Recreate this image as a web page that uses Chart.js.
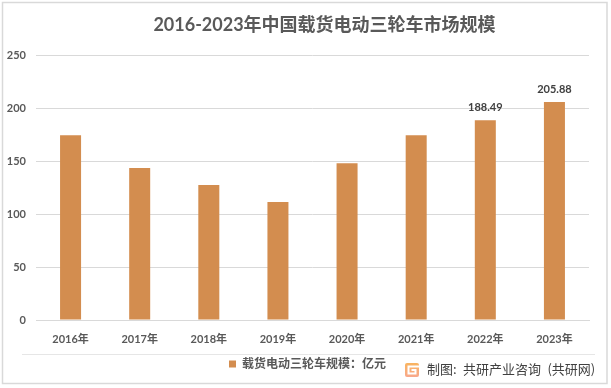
<!DOCTYPE html>
<html><head><meta charset="utf-8">
<style>html,body{margin:0;padding:0;background:#fff}canvas{display:block}</style>
<script src="https://cdn.jsdelivr.net/npm/chart.js@4"></script></head>
<body><div style="width:611px;height:388px;position:relative"><canvas id="c" width="611" height="388"></canvas></div>
<script>
const categories=['2016年','2017年','2018年','2019年','2020年','2021年','2022年','2023年'];
const marketSize=[174.5,143.5,127.5,111.5,148,174.5,188.49,205.88];
const dataLabels=[null,null,null,null,null,null,'188.49','205.88'];
const seriesName='载货电动三轮车规模：亿元';
const titleText='2016-2023年中国载货电动三轮车市场规模';
const sourceText='制图: 共研产业咨询 (共研网)';
const FF='Lato,"Noto Sans CJK SC",sans-serif';
const decor={id:'decor',
 afterLayout(ch){ch.titleBlock.left+=30;ch.titleBlock.right+=30;ch.legend.left+=13;ch.legend.right+=13;ch.legend.top+=1;ch.legend.bottom+=1;},
 beforeDraw(ch){const c=ch.ctx;c.save();c.fillStyle='#fff';c.fillRect(0,0,611,388);
  c.strokeStyle='#D9D9D9';c.lineWidth=1.5;c.strokeRect(2.5,2.5,604.5,381);
  c.lineWidth=1;c.strokeStyle='#E6E6E6';c.beginPath();c.moveTo(22,354.5);c.lineTo(595,354.5);c.stroke();c.restore();},
 afterDatasetsDraw(ch){const c=ch.ctx,m=ch.getDatasetMeta(0);c.save();
  c.font='bold 11px '+FF;c.fillStyle='#404040';c.textAlign='center';c.textBaseline='alphabetic';
  m.data.forEach((b,i)=>{if(dataLabels[i])c.fillText(dataLabels[i],b.x,b.y-9);});
  const g=c.createLinearGradient(0,363,0,377);g.addColorStop(0,'#F9B45F');g.addColorStop(1,'#F8A88C');
  c.fillStyle=g;c.beginPath();c.roundRect(405,363,14,14,2);c.fill();
  c.strokeStyle='#fff';c.lineWidth=2;c.beginPath();c.moveTo(419,366.5);c.lineTo(408.5,366.5);c.lineTo(408.5,373.5);c.lineTo(415.5,373.5);c.lineTo(415.5,370);c.lineTo(411.5,370);c.stroke();
  c.font='13px "Noto Sans CJK SC",sans-serif';c.wordSpacing='3.5px';c.fillStyle='#404040';c.textAlign='left';c.textBaseline='middle';
  c.fillText(sourceText,427,369);c.restore();}};
new Chart(document.getElementById('c'),{type:'bar',
 data:{labels:categories,datasets:[{label:seriesName,data:marketSize,backgroundColor:'#D38D4F',categoryPercentage:1,barPercentage:0.304}]},
 plugins:[decor],
 options:{responsive:false,animation:false,devicePixelRatio:1,
  layout:{padding:{left:0,right:22,top:0,bottom:9}},
  plugins:{
   title:{display:true,text:titleText,color:'#595959',font:{family:FF,size:18,weight:'bold'},padding:{top:14,bottom:19.6}},
   legend:{position:'bottom',labels:{boxWidth:7,boxHeight:7,padding:3,color:'#595959',font:{family:FF,size:12,weight:'bold'}}},
   tooltip:{enabled:false}},
  scales:{
   x:{grid:{display:false},border:{color:'#D9D9D9'},ticks:{color:'#595959',padding:5,maxRotation:0,font:{family:FF,size:11,weight:'bold'}},afterFit(s){s.height=34;}},
   y:{min:0,max:250,grid:{color:'#D9D9D9',drawTicks:false},border:{display:false},ticks:{stepSize:50,color:'#595959',padding:10,font:{family:FF,size:11,weight:'bold'}},afterFit(s){s.width=36;}}
  }}});
</script></body></html>
